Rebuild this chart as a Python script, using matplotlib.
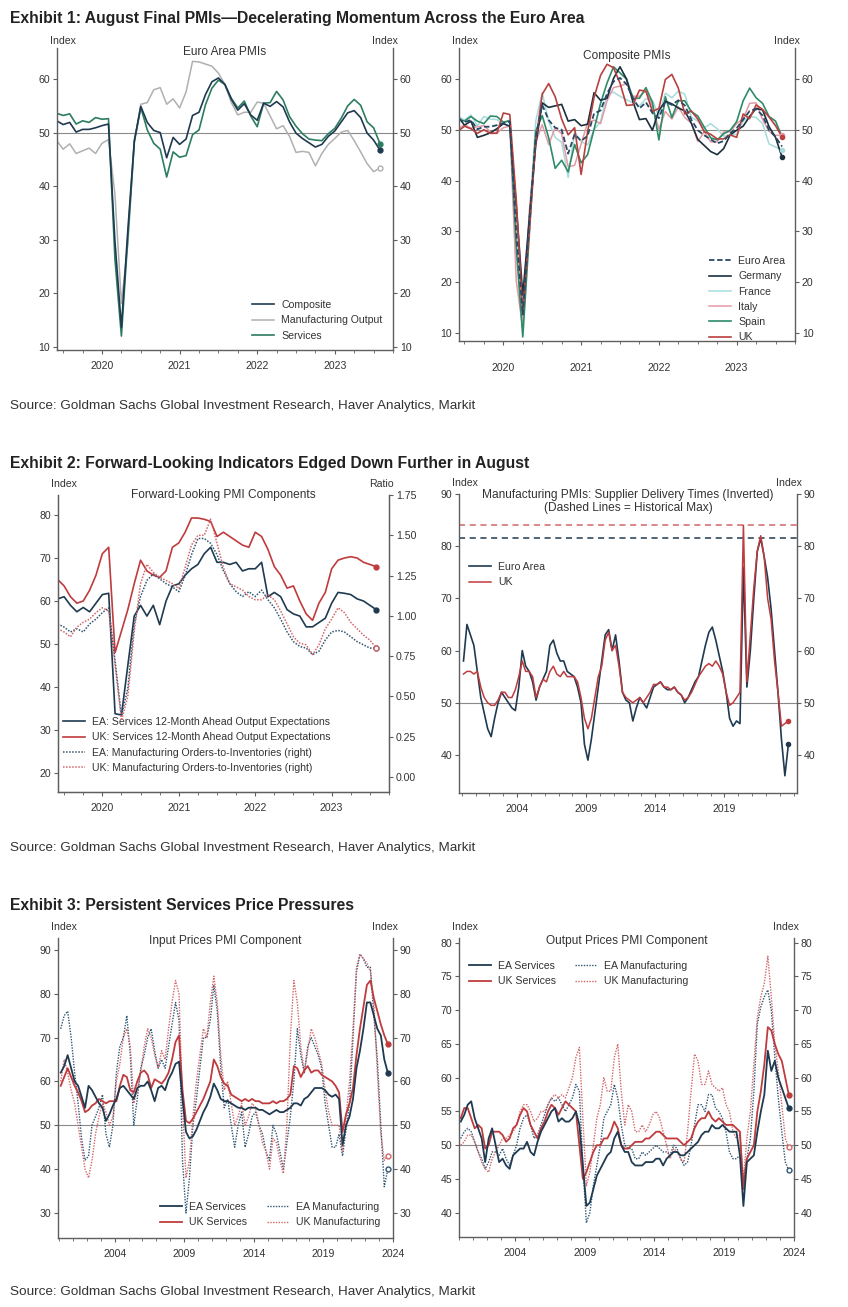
"""Euro area / UK PMI dashboard: three exhibits, six panels, drawn with matplotlib."""
import numpy as np
import matplotlib

matplotlib.use("Agg")
import matplotlib.pyplot as plt  # noqa: E402

FS = 7.6  # ticks, legends, corner labels

plt.rcParams["font.family"] = ["Liberation Sans", "DejaVu Sans"]
plt.rcParams["font.size"] = FS
plt.rcParams["text.color"] = "#333333"
plt.rcParams["axes.edgecolor"] = "#5f5f5f"
plt.rcParams["xtick.color"] = "#5f5f5f"
plt.rcParams["ytick.color"] = "#5f5f5f"
plt.rcParams["xtick.labelcolor"] = "#333333"
plt.rcParams["ytick.labelcolor"] = "#333333"

# ---------------------------------------------------------------- data
# monthly, Jun 2019 .. Aug 2023
months = 2019 + (np.arange(51) + 5) / 12

ea_composite = [52.2, 51.5, 51.9, 50.1, 50.6, 50.6, 50.9,
                51.3, 51.6, 29.7, 13.6, 31.9, 48.5, 54.9, 51.9, 50.4, 50.0, 45.3, 49.1,
                47.8, 48.8, 53.2, 53.8, 57.1, 59.5, 60.2, 59.0, 56.2, 54.2, 55.4, 53.3,
                52.3, 55.5, 54.9, 55.8, 54.8, 52.0, 49.9, 48.9, 48.1, 47.3, 47.8, 49.3,
                50.3, 52.0, 53.7, 54.1, 52.8, 49.9, 48.6, 46.7]
ea_mfg_output = [48.5, 46.9, 47.9, 46.1, 46.6, 47.1, 46.1,
                 48.0, 48.7, 38.5, 18.1, 29.2, 48.2, 55.3, 55.6, 58.0, 58.4, 55.3, 56.3,
                 54.6, 57.6, 63.3, 63.2, 62.8, 62.4, 61.1, 59.0, 55.6, 53.3, 53.8, 53.8,
                 55.7, 55.5, 53.1, 50.7, 51.3, 49.3, 46.3, 46.5, 46.3, 43.8, 46.1, 47.8,
                 48.9, 50.1, 50.4, 48.5, 46.4, 44.2, 42.7, 43.4]
ea_services = [53.6, 53.2, 53.5, 51.6, 52.2, 51.9, 52.8,
               52.5, 52.6, 26.4, 12.0, 30.5, 48.3, 54.7, 50.5, 48.0, 46.9, 41.7, 46.4,
               45.4, 45.7, 49.6, 50.5, 55.2, 58.3, 59.8, 59.0, 56.4, 54.6, 55.9, 53.1,
               51.1, 55.5, 55.6, 57.7, 56.1, 53.0, 51.2, 49.8, 48.8, 48.6, 48.5, 49.8,
               50.8, 52.7, 55.0, 56.2, 55.1, 52.0, 50.9, 47.9]

de_composite = [52.6, 50.9, 51.7, 48.5, 48.9, 49.4, 50.2,
                51.2, 50.7, 35.0, 17.4, 32.3, 47.0, 55.3, 54.4, 54.7, 55.0, 51.7, 52.0,
                50.8, 51.1, 57.3, 55.8, 56.2, 60.1, 62.4, 60.0, 55.5, 52.0, 52.2, 49.9,
                53.8, 55.6, 55.1, 54.3, 53.7, 51.3, 48.1, 46.9, 45.7, 45.1, 46.3, 49.0,
                49.9, 50.7, 52.6, 54.2, 53.9, 50.6, 48.5, 44.6]
fr_composite = [52.7, 51.9, 52.9, 50.8, 52.6, 52.1, 52.0,
                51.1, 52.0, 28.9, 11.1, 32.1, 51.7, 57.3, 51.6, 48.5, 47.5, 40.6, 49.5,
                47.7, 47.0, 50.0, 51.6, 57.0, 57.4, 56.6, 55.9, 55.3, 54.7, 56.1, 55.8,
                52.7, 57.2, 56.3, 57.6, 57.0, 52.5, 51.7, 50.4, 51.2, 50.2, 48.7, 49.1,
                49.1, 51.7, 52.7, 52.4, 51.2, 47.2, 46.6, 46.0]
it_composite = [50.1, 51.0, 50.3, 50.6, 50.8, 49.6, 49.3,
                50.4, 50.7, 20.2, 10.9, 33.9, 47.6, 51.0, 47.1, 50.4, 49.2, 42.7, 43.0,
                47.2, 51.4, 51.9, 51.2, 55.7, 58.3, 58.6, 59.1, 56.6, 56.6, 57.6, 54.7,
                50.1, 53.6, 52.1, 54.5, 52.4, 51.3, 47.7, 49.6, 47.6, 47.6, 49.6, 49.6,
                51.2, 52.2, 55.2, 55.3, 52.0, 49.7, 48.9, 48.9]
es_composite = [52.1, 51.7, 52.6, 51.7, 51.2, 52.7, 52.6,
                51.5, 51.8, 26.7, 9.2, 29.2, 49.7, 52.8, 48.4, 42.4, 44.0, 41.7, 47.1,
                43.5, 45.1, 50.1, 55.2, 59.2, 62.4, 61.2, 60.0, 56.2, 56.2, 58.3, 55.4,
                48.0, 56.5, 52.4, 55.7, 55.7, 53.6, 52.7, 50.5, 48.4, 48.0, 49.2, 49.9,
                51.6, 55.7, 58.2, 56.3, 55.2, 52.6, 51.7, 48.6]
uk_composite = [49.7, 50.7, 50.2, 49.3, 50.0, 49.3, 49.3,
                53.3, 53.0, 36.0, 13.8, 30.0, 47.7, 57.0, 59.1, 56.5, 52.1, 49.0, 50.4,
                41.2, 49.6, 56.4, 60.7, 62.9, 62.2, 59.2, 54.8, 54.9, 57.8, 57.6, 53.6,
                54.2, 59.9, 60.9, 58.2, 53.1, 53.7, 52.1, 49.6, 49.1, 48.2, 48.2, 49.0,
                48.5, 53.1, 52.2, 54.9, 54.0, 52.5, 50.8, 48.6]

ea_serv_expect = [60.5, 61.0, 59.0, 57.5, 58.5, 57.5, 59.5,
                  61.5, 61.8, 33.8, 33.5, 45.0, 56.5, 59.0, 56.5, 59.0, 54.5, 60.0, 63.5,
                  64.0, 66.0, 67.5, 68.5, 71.0, 72.5, 69.0, 69.0, 68.5, 69.0, 67.0, 67.5,
                  67.5, 69.0, 61.0, 62.0, 61.0, 58.0, 57.0, 56.5, 54.0, 54.0, 55.0, 56.0,
                  59.5, 62.0, 61.8, 61.5, 60.5, 60.0, 59.0, 58.0]
uk_serv_expect = [65.0, 63.5, 61.0, 59.5, 60.0, 62.5, 66.0,
                  71.0, 72.5, 48.0, 53.0, 58.0, 64.0, 69.5, 67.0, 66.0, 65.5, 67.0, 72.5,
                  73.5, 76.0, 79.3, 79.3, 79.0, 78.5, 75.0, 76.0, 75.0, 74.0, 73.0, 72.5,
                  76.0, 75.0, 72.0, 68.0, 66.0, 63.0, 63.5, 60.0, 57.0, 55.5, 59.5, 62.0,
                  67.5, 69.5, 70.0, 70.3, 70.0, 69.0, 68.5, 68.0]
ea_orders_inv = [0.95, 0.93, 0.90, 0.92, 0.90, 0.95, 0.98,
                 1.02, 1.05, 0.72, 0.38, 0.55, 0.95, 1.12, 1.22, 1.26, 1.23, 1.20, 1.18,
                 1.15, 1.25, 1.38, 1.48, 1.48, 1.45, 1.38, 1.28, 1.20, 1.15, 1.12, 1.15,
                 1.12, 1.16, 1.10, 1.05, 0.98, 0.90, 0.84, 0.81, 0.80, 0.76, 0.78, 0.85,
                 0.90, 0.91, 0.90, 0.87, 0.84, 0.82, 0.80, 0.80]
uk_orders_inv = [0.92, 0.90, 0.87, 0.93, 0.96, 0.98, 1.02,
                 1.05, 1.03, 0.70, 0.35, 0.50, 0.90, 1.20, 1.32, 1.27, 1.24, 1.22, 1.20,
                 1.17, 1.30, 1.44, 1.50, 1.50, 1.60, 1.45, 1.30, 1.20, 1.18, 1.16, 1.12,
                 1.10, 1.10, 1.13, 1.10, 1.03, 0.95, 0.87, 0.83, 0.82, 0.76, 0.82, 0.92,
                 0.98, 1.05, 1.02, 0.96, 0.92, 0.88, 0.85, 0.80]

# quarterly, 2000Q1 .. 2023Q3
quarters = 2000.125 + 0.25 * np.arange(95)

ea_delivery = [58, 65, 63, 61, 56, 51, 48, 45, 43.5, 47, 50, 52, 51, 50, 49, 48.5,
               53, 60, 57, 56, 54, 50.5, 53, 54.5, 56, 61, 62, 59.5, 58, 58, 56, 55.5,
               55, 53, 50, 42, 39, 43, 48, 53, 58, 63, 64, 60, 63, 58, 52, 50.5,
               50, 46.5, 49, 51, 50, 49, 51, 53, 53.5, 54, 53, 52.5, 52.5, 53, 52, 51.5,
               50, 51, 52.5, 54, 55, 58, 61, 63.5, 64.5, 62, 59, 56, 52, 47, 45.5, 46.5,
               46, 76, 53, 60, 70, 79, 81.5, 78, 74, 68, 60, 52, 43, 36, 42]
uk_delivery = [55.5, 56, 56, 55.5, 56, 53, 51, 50, 49.5, 49.5, 50.5, 52, 52, 51, 51, 52.5,
               55, 58, 56, 56, 55, 51, 53, 54.5, 54, 56, 57, 55.5, 55, 56, 55, 55,
               55, 54, 51, 47, 45, 47, 51, 55, 57, 62, 63.5, 60, 61, 57, 52, 51,
               50.5, 50, 50.5, 51, 50, 51, 52, 53.5, 53.5, 54, 53, 53, 52.5, 53, 52, 51.5,
               50.5, 51, 52, 53.5, 55, 56, 57, 57.5, 57, 58, 57, 55.5, 52, 49.5, 50, 51,
               52, 84, 54, 63, 72, 79, 82, 78, 70, 66, 58, 52, 45.5, 46, 46.5]
ea_delivery_max = 81.5
uk_delivery_max = 84.0

ea_serv_input = [62, 63.5, 66, 63, 60, 59, 56.5, 54, 59, 58, 56.5, 55, 54, 51, 52.5, 54.5,
                 56, 58.5, 59, 58, 57, 56, 58.5, 59, 59, 60, 58, 55.5, 58.5, 59, 58, 60.5,
                 62, 64, 64.5, 56, 48.5, 47, 47.5, 49, 51, 53, 54.5, 56.5, 59.5, 58, 56, 55.5,
                 55.5, 55, 54.5, 54, 54, 53.5, 54, 54, 54, 53.5, 53.5, 53, 52.5, 53, 53.5, 53,
                 53, 53.5, 54, 55, 55, 54.5, 56, 56.5, 57.5, 58.5, 58.5, 58.5, 58, 57, 56.5, 57,
                 56, 45.5, 50, 52, 56, 63, 67, 72, 78, 78, 75, 72, 70.5, 65, 62]
uk_serv_input = [59, 61, 63, 61, 59, 57.5, 55.5, 53, 53.5, 54.5, 55, 56, 55.5, 55, 55.5, 55.5,
                 55.5, 59, 61.5, 61, 58, 57.5, 60, 62, 62.5, 61.5, 58.5, 60.5, 60, 59.5, 60.5, 62,
                 65, 69, 70.5, 58, 51, 50.5, 51.5, 53, 54.5, 56, 58, 60, 65, 63.5, 61, 59.5,
                 59, 57, 56.5, 56, 55.5, 56, 55.5, 56, 55.5, 55.5, 55, 55, 55, 55.5, 55, 55.5,
                 55.5, 56, 57, 63.5, 63, 61, 62.5, 63.5, 62, 62.5, 62.5, 61.5, 61, 60.5, 60, 59,
                 57.5, 48.5, 52.5, 55, 58.5, 66, 72, 77, 82, 83, 79, 76, 73, 70.5, 68.5]
ea_mfg_input = [72, 75, 76, 70, 62, 55, 47, 42, 43, 50, 52, 54, 57, 48, 45, 50,
                62, 68, 70, 75, 66, 50, 56, 63, 66, 70, 72, 67, 63, 65, 63, 68,
                73, 78, 74, 42, 30, 38, 50, 56, 63, 70, 70, 74, 82, 76, 63, 54,
                56, 50, 45, 50, 53, 45, 48, 52, 53, 50, 48, 44, 42, 50, 48, 44,
                40, 46, 52, 60, 72, 66, 62, 68, 70, 68, 66, 63, 55, 50, 45, 45,
                48, 43, 49, 55, 70, 85, 89, 88, 86, 86, 75, 65, 50, 36, 40]
uk_mfg_input = [60, 65, 62, 58, 55, 50, 45, 40, 38, 42, 48, 52, 55, 53, 50, 52,
                60, 64, 70, 72, 68, 55, 58, 62, 68, 72, 70, 66, 63, 67, 65, 72,
                78, 83, 80, 55, 38, 42, 52, 60, 66, 72, 70, 78, 84, 78, 66, 58,
                60, 55, 50, 52, 55, 50, 52, 55, 54, 50, 46, 44, 40, 47, 46, 42,
                39, 50, 70, 83, 78, 68, 62, 67, 72, 70, 67, 64, 58, 53, 50, 50,
                50, 44, 52, 60, 72, 86, 89, 88, 87, 85, 78, 62, 48, 42, 43]

ea_serv_output = [53.5, 54.5, 56, 56.5, 54, 52.5, 51, 47.5, 51, 52.5, 50, 47.5, 48, 47, 46.5, 48.5,
                  49, 49.5, 49.5, 50.5, 49, 48.5, 50.5, 52, 53, 54, 55, 55.5, 53.5, 54, 53.5, 53.5,
                  54, 55, 53, 47, 41, 41.5, 43.5, 45.5, 46.5, 47.5, 48.5, 49, 51, 52, 50, 49,
                  49, 47.5, 47, 47, 47, 47.5, 47.5, 47.5, 48, 48, 47, 48, 48.5, 49, 49, 48.5,
                  48.5, 49, 49.5, 50, 50.5, 51.5, 52, 52, 53, 52.5, 52.5, 53, 52.5, 52, 52, 52,
                  48.5, 41, 47.5, 48, 48.5, 52, 55, 57.5, 64, 61, 62.5, 60, 58.5, 57, 55.5]
uk_serv_output = [54, 55.5, 55.5, 54, 52.5, 53, 52.5, 49.5, 50, 52, 52, 52, 51.5, 50.5, 51, 52.5,
                  53, 54.5, 55.5, 55, 53, 52, 51, 52.5, 53.5, 55, 56, 55.5, 54.5, 55.5, 56.5, 56,
                  55.5, 55, 50, 45, 46, 47.5, 49, 50, 50, 51, 51, 52, 53.5, 52.5, 50, 49.5,
                  49.5, 50, 50.5, 50.5, 50.5, 51, 51, 51.5, 52, 52, 51.5, 51, 51, 51, 51, 50.5,
                  50, 50.5, 51, 52.5, 53.5, 54, 54, 55, 54, 53.5, 54, 53.5, 53, 53, 53, 52.5,
                  52, 43.5, 48, 49, 50, 55, 58, 62, 67.5, 67, 65, 63.5, 62.5, 60, 57.5]
ea_mfg_output_px = [51, 52, 52.5, 52, 50.5, 49, 48, 46.5, 47.5, 49, 49, 48.5, 49.5, 48, 47, 48.5,
                    50, 52.5, 54, 54.5, 53, 51, 51.5, 53, 54.5, 56, 57, 56.5, 57, 56, 55, 56,
                    57, 59, 58, 47, 38.5, 40, 44, 47, 50, 54, 55, 56, 59, 57, 53, 50,
                    49.5, 49.5, 48, 48, 49, 48.5, 49, 49.5, 50, 49.5, 49, 49, 48.5, 50, 49.5, 48,
                    47, 47.5, 50, 53, 56, 56, 55, 57.5, 57.5, 55.5, 55, 54, 52, 49, 48, 48,
                    48.5, 45, 48, 51, 58, 68, 70.5, 72, 73, 70, 63, 57, 52, 47.5, 46.3]
uk_mfg_output_px = [50, 50.5, 51.5, 51.5, 50.5, 49, 47.5, 46.5, 46, 48, 49, 50, 51, 51, 51.5, 52,
                    53, 55, 56, 56, 55, 53.5, 54, 55, 55, 56, 57, 57.5, 57, 57.5, 57, 58.5,
                    60, 63, 64.5, 54, 44, 46, 50, 54, 56, 60, 58, 58, 63, 65, 58, 53,
                    56, 55, 52, 52, 53, 52, 53, 54.5, 55, 54, 52, 50, 48, 49.5, 49, 48,
                    47.5, 52, 58, 63.5, 62.5, 59, 59, 61, 59, 58.5, 58, 58.5, 56, 55, 52, 51,
                    51.5, 45, 51, 55, 62, 69, 72, 74, 78, 72, 65, 61, 56, 51, 49.7]

# ---------------------------------------------------------------- colours
NAVY = "#1f3a50"
RED = "#bf3b3d"
LIGHT_RED = "#d2666a"
GREEN = "#2c7d61"
GREY = "#b0b0b0"
DOT = (0, (1, 1))

W, H = 848, 1307
fig = plt.figure(figsize=(W / 100, H / 100), dpi=100)


def px_axes(x0, y0, x1, y1):
    """Axes from pixel box (left, top, right, bottom)."""
    return fig.add_axes([x0 / W, 1 - y1 / H, (x1 - x0) / W, (y1 - y0) / H])


def style(ax, xlim, ylim, yticks, xmajor, xminor, xpad=5, right=True, hline=True):
    ax.set_xlim(*xlim)
    ax.set_ylim(*ylim)
    ax.spines["top"].set_visible(False)
    for s in ("left", "right", "bottom"):
        ax.spines[s].set_linewidth(1.0)
    ax.set_yticks(yticks)
    ax.tick_params(axis="y", direction="out", length=3, width=0.8, pad=2,
                   left=True, right=right, labelright=right, labelsize=FS)
    ax.set_xticks(xmajor)
    ax.set_xticklabels([str(y) for y in xmajor])
    ax.set_xticks(xminor, minor=True)
    ax.tick_params(axis="x", which="major", direction="out", length=3, width=0.8,
                   pad=xpad, labelsize=FS)
    ax.tick_params(axis="x", which="minor", direction="out", length=2, width=0.6)
    if hline:
        ax.axhline(50, color="#8a8a8a", lw=0.8, zorder=1)


def corner(ax, left="Index", right="Index", dy=3):
    ax.annotate(left, xy=(0, 1), xycoords="axes fraction", xytext=(-7, dy),
                textcoords="offset pixels", ha="left", va="bottom", fontsize=FS)
    ax.annotate(right, xy=(1, 1), xycoords="axes fraction", xytext=(5, dy),
                textcoords="offset pixels", ha="right", va="bottom", fontsize=FS)


def panel_title(ax, text, dy=-1):
    ax.annotate(text, xy=(0.5, 1), xycoords="axes fraction", xytext=(0, dy),
                textcoords="offset pixels", ha="center", va="top", fontsize=8.6)


def legend_at(ax, x, y, **kw):
    opts = dict(loc="upper left", bbox_to_anchor=(x / W, 1 - y / H),
                bbox_transform=fig.transFigure, frameon=False, fontsize=FS,
                handlelength=2.1, handletextpad=0.65, labelspacing=0.5,
                borderpad=0, borderaxespad=0)
    opts.update(kw)
    return ax.legend(**opts)


def end_marker(ax, t, v, color, filled=True, ms=3.5):
    ax.plot(t[-1], v[-1], "o", ms=ms, color=color,
            mfc=color if filled else "white", mew=1.0, zorder=5)


yrs_short = [2020, 2021, 2022, 2023]
q_minor = np.arange(2019.5, 2023.76, 0.25)
long_minor = np.arange(2000, 2025, 1)

# ---------------------------------------------------------------- exhibit titles / sources
for y, txt in [(18, "Exhibit 1: August Final PMIs\u2014Decelerating Momentum Across the Euro Area"),
               (463, "Exhibit 2: Forward-Looking Indicators Edged Down Further in August"),
               (905, "Exhibit 3: Persistent Services Price Pressures")]:
    fig.text(10 / W, 1 - y / H, txt, fontsize=11.3, fontweight="bold", color="#222222",
             ha="left", va="center")
for y in (406, 848, 1292):
    fig.text(10 / W, 1 - y / H,
             "Source: Goldman Sachs Global Investment Research, Haver Analytics, Markit",
             fontsize=9.7, color="#333333", ha="left", va="center")

# ---------------------------------------------------------------- panel 1
ax1 = px_axes(57, 48, 393, 350)
ax1.plot(months, ea_mfg_output, color=GREY, lw=1.1, label="Manufacturing Output")
ax1.plot(months, ea_services, color=GREEN, lw=1.2, label="Services")
ax1.plot(months, ea_composite, color=NAVY, lw=1.2, label="Composite")
end_marker(ax1, months, ea_mfg_output, GREY, filled=False)
end_marker(ax1, months, ea_services, GREEN)
end_marker(ax1, months, ea_composite, NAVY)
style(ax1, (2019.42, 2023.67), (9.4, 65.8), range(10, 61, 10), yrs_short, q_minor)
corner(ax1, dy=2)
panel_title(ax1, "Euro Area PMIs", dy=2)
h, l = ax1.get_legend_handles_labels()
order = [l.index("Composite"), l.index("Manufacturing Output"), l.index("Services")]
legend_at(ax1, 252, 300, handles=[h[i] for i in order], labels=[l[i] for i in order])

# ---------------------------------------------------------------- panel 2
ax2 = px_axes(459, 48, 795, 341)
ax2.plot(months, fr_composite, color="#a6dbdb", lw=1.1, label="France")
ax2.plot(months, it_composite, color="#e39aa6", lw=1.1, label="Italy")
ax2.plot(months, es_composite, color="#2e8b68", lw=1.2, label="Spain")
ax2.plot(months, de_composite, color="#1b2f3d", lw=1.2, label="Germany")
ax2.plot(months, uk_composite, color="#b8413f", lw=1.2, label="UK")
ax2.plot(months, ea_composite, color="#2a4866", lw=1.3, ls=(0, (3, 1.5)), label="Euro Area")
for series, col in [(fr_composite, "#a6dbdb"), (it_composite, "#e39aa6"),
                    (uk_composite, "#b8413f"), (de_composite, "#1b2f3d")]:
    end_marker(ax2, months, series, col, ms=3)
style(ax2, (2019.43, 2023.67), (8.4, 66.1), range(10, 61, 10), yrs_short, q_minor, xpad=13)
corner(ax2, dy=2)
panel_title(ax2, "Composite PMIs", dy=-2)
h, l = ax2.get_legend_handles_labels()
names = ["Euro Area", "Germany", "France", "Italy", "Spain", "UK"]
legend_at(ax2, 709, 256, handles=[h[l.index(n)] for n in names], labels=names)

# ---------------------------------------------------------------- panel 3
ax3 = px_axes(58, 495, 389, 792)
ax3b = ax3.twinx()
ax3.plot(months, ea_serv_expect, color=NAVY, lw=1.2,
         label="EA: Services 12-Month Ahead Output Expectations")
ax3.plot(months, uk_serv_expect, color=RED, lw=1.2,
         label="UK: Services 12-Month Ahead Output Expectations")
ax3b.plot(months, ea_orders_inv, color="#2f5672", lw=1.1, ls=DOT,
          label="EA: Manufacturing Orders-to-Inventories (right)")
ax3b.plot(months, uk_orders_inv, color=LIGHT_RED, lw=1.1, ls=DOT,
          label="UK: Manufacturing Orders-to-Inventories (right)")
end_marker(ax3, months, ea_serv_expect, NAVY)
end_marker(ax3, months, uk_serv_expect, RED)
end_marker(ax3b, months, ea_orders_inv, "#2f5672", filled=False)
end_marker(ax3b, months, uk_orders_inv, LIGHT_RED, filled=False)
style(ax3, (2019.42, 2023.72), (15.6, 84.65), range(20, 81, 10), yrs_short, q_minor,
      right=False, hline=False)
ax3b.set_ylim(-0.093, 1.75)
ax3b.set_yticks(np.arange(0, 1.76, 0.25))
ax3b.set_yticklabels([f"{v:.2f}" for v in np.arange(0, 1.76, 0.25)])
ax3b.spines["top"].set_visible(False)
ax3b.tick_params(axis="y", direction="out", length=3, width=0.8, pad=2, labelsize=FS)
corner(ax3, right="Ratio", dy=6)
panel_title(ax3, "Forward-Looking PMI Components", dy=6)
h1, l1 = ax3.get_legend_handles_labels()
h2, l2 = ax3b.get_legend_handles_labels()
legend_at(ax3, 63, 717, handles=h1 + h2, labels=l1 + l2)

# ---------------------------------------------------------------- panel 4
ax4 = px_axes(459, 494, 797, 793)
ax4.axhline(uk_delivery_max, color=LIGHT_RED, lw=1.1, ls=(0, (4, 3)), zorder=2)
ax4.axhline(ea_delivery_max, color=NAVY, lw=1.1, ls=(0, (4, 3)), zorder=2)
ax4.plot(quarters, ea_delivery, color=NAVY, lw=1.2, label="Euro Area")
ax4.plot(quarters, uk_delivery, color=RED, lw=1.1, label="UK")
end_marker(ax4, quarters, ea_delivery, NAVY, ms=3)
end_marker(ax4, quarters, uk_delivery, RED, ms=3)
style(ax4, (1999.8, 2024.25), (32.7, 90), range(40, 91, 10), [2004, 2009, 2014, 2019],
      long_minor)
corner(ax4, dy=6)
ax4.annotate("Manufacturing PMIs: Supplier Delivery Times (Inverted)\n(Dashed Lines = Historical Max)",
             xy=(0.5, 1), xycoords="axes fraction", xytext=(0, 5), textcoords="offset pixels",
             ha="center", va="top", fontsize=8.6, linespacing=1.1)
legend_at(ax4, 469, 562)

# ---------------------------------------------------------------- panel 5
ax5 = px_axes(58, 938, 393, 1238)
ax5.plot(quarters, ea_mfg_input, color="#2f5672", lw=1.0, ls=DOT, label="EA Manufacturing")
ax5.plot(quarters, uk_mfg_input, color=LIGHT_RED, lw=1.0, ls=DOT, label="UK Manufacturing")
ax5.plot(quarters, uk_serv_input, color=RED, lw=1.3, label="UK Services")
ax5.plot(quarters, ea_serv_input, color=NAVY, lw=1.3, label="EA Services")
end_marker(ax5, quarters, ea_serv_input, NAVY)
end_marker(ax5, quarters, uk_serv_input, RED)
end_marker(ax5, quarters, ea_mfg_input, "#2f5672", filled=False)
end_marker(ax5, quarters, uk_mfg_input, LIGHT_RED, filled=False)
style(ax5, (1999.93, 2024.0), (24.3, 92.7), range(30, 91, 10),
      [2004, 2009, 2014, 2019, 2024], long_minor)
corner(ax5, dy=6)
panel_title(ax5, "Input Prices PMI Component", dy=3)
h, l = ax5.get_legend_handles_labels()
names = ["EA Services", "UK Services", "EA Manufacturing", "UK Manufacturing"]
legend_at(ax5, 160, 1202, handles=[h[l.index(n)] for n in names], labels=names,
          ncol=2, columnspacing=1.9)

# ---------------------------------------------------------------- panel 6
ax6 = px_axes(459, 938, 794, 1237)
ax6.plot(quarters, ea_mfg_output_px, color="#2f5672", lw=1.0, ls=DOT, label="EA Manufacturing")
ax6.plot(quarters, uk_mfg_output_px, color=LIGHT_RED, lw=1.0, ls=DOT, label="UK Manufacturing")
ax6.plot(quarters, uk_serv_output, color=RED, lw=1.3, label="UK Services")
ax6.plot(quarters, ea_serv_output, color=NAVY, lw=1.3, label="EA Services")
end_marker(ax6, quarters, ea_serv_output, NAVY)
end_marker(ax6, quarters, uk_serv_output, RED)
end_marker(ax6, quarters, ea_mfg_output_px, "#2f5672", filled=False)
end_marker(ax6, quarters, uk_mfg_output_px, LIGHT_RED, filled=False)
style(ax6, (2000.0, 2023.9), (36.4, 80.7), range(40, 81, 5),
      [2004, 2009, 2014, 2019, 2024], long_minor)
corner(ax6, dy=6)
panel_title(ax6, "Output Prices PMI Component", dy=3)
h, l = ax6.get_legend_handles_labels()
legend_at(ax6, 469, 961, handles=[h[l.index(n)] for n in names], labels=names,
          ncol=2, columnspacing=1.8)

fig.savefig("out.png", dpi=100, facecolor="white")
plt.close(fig)
